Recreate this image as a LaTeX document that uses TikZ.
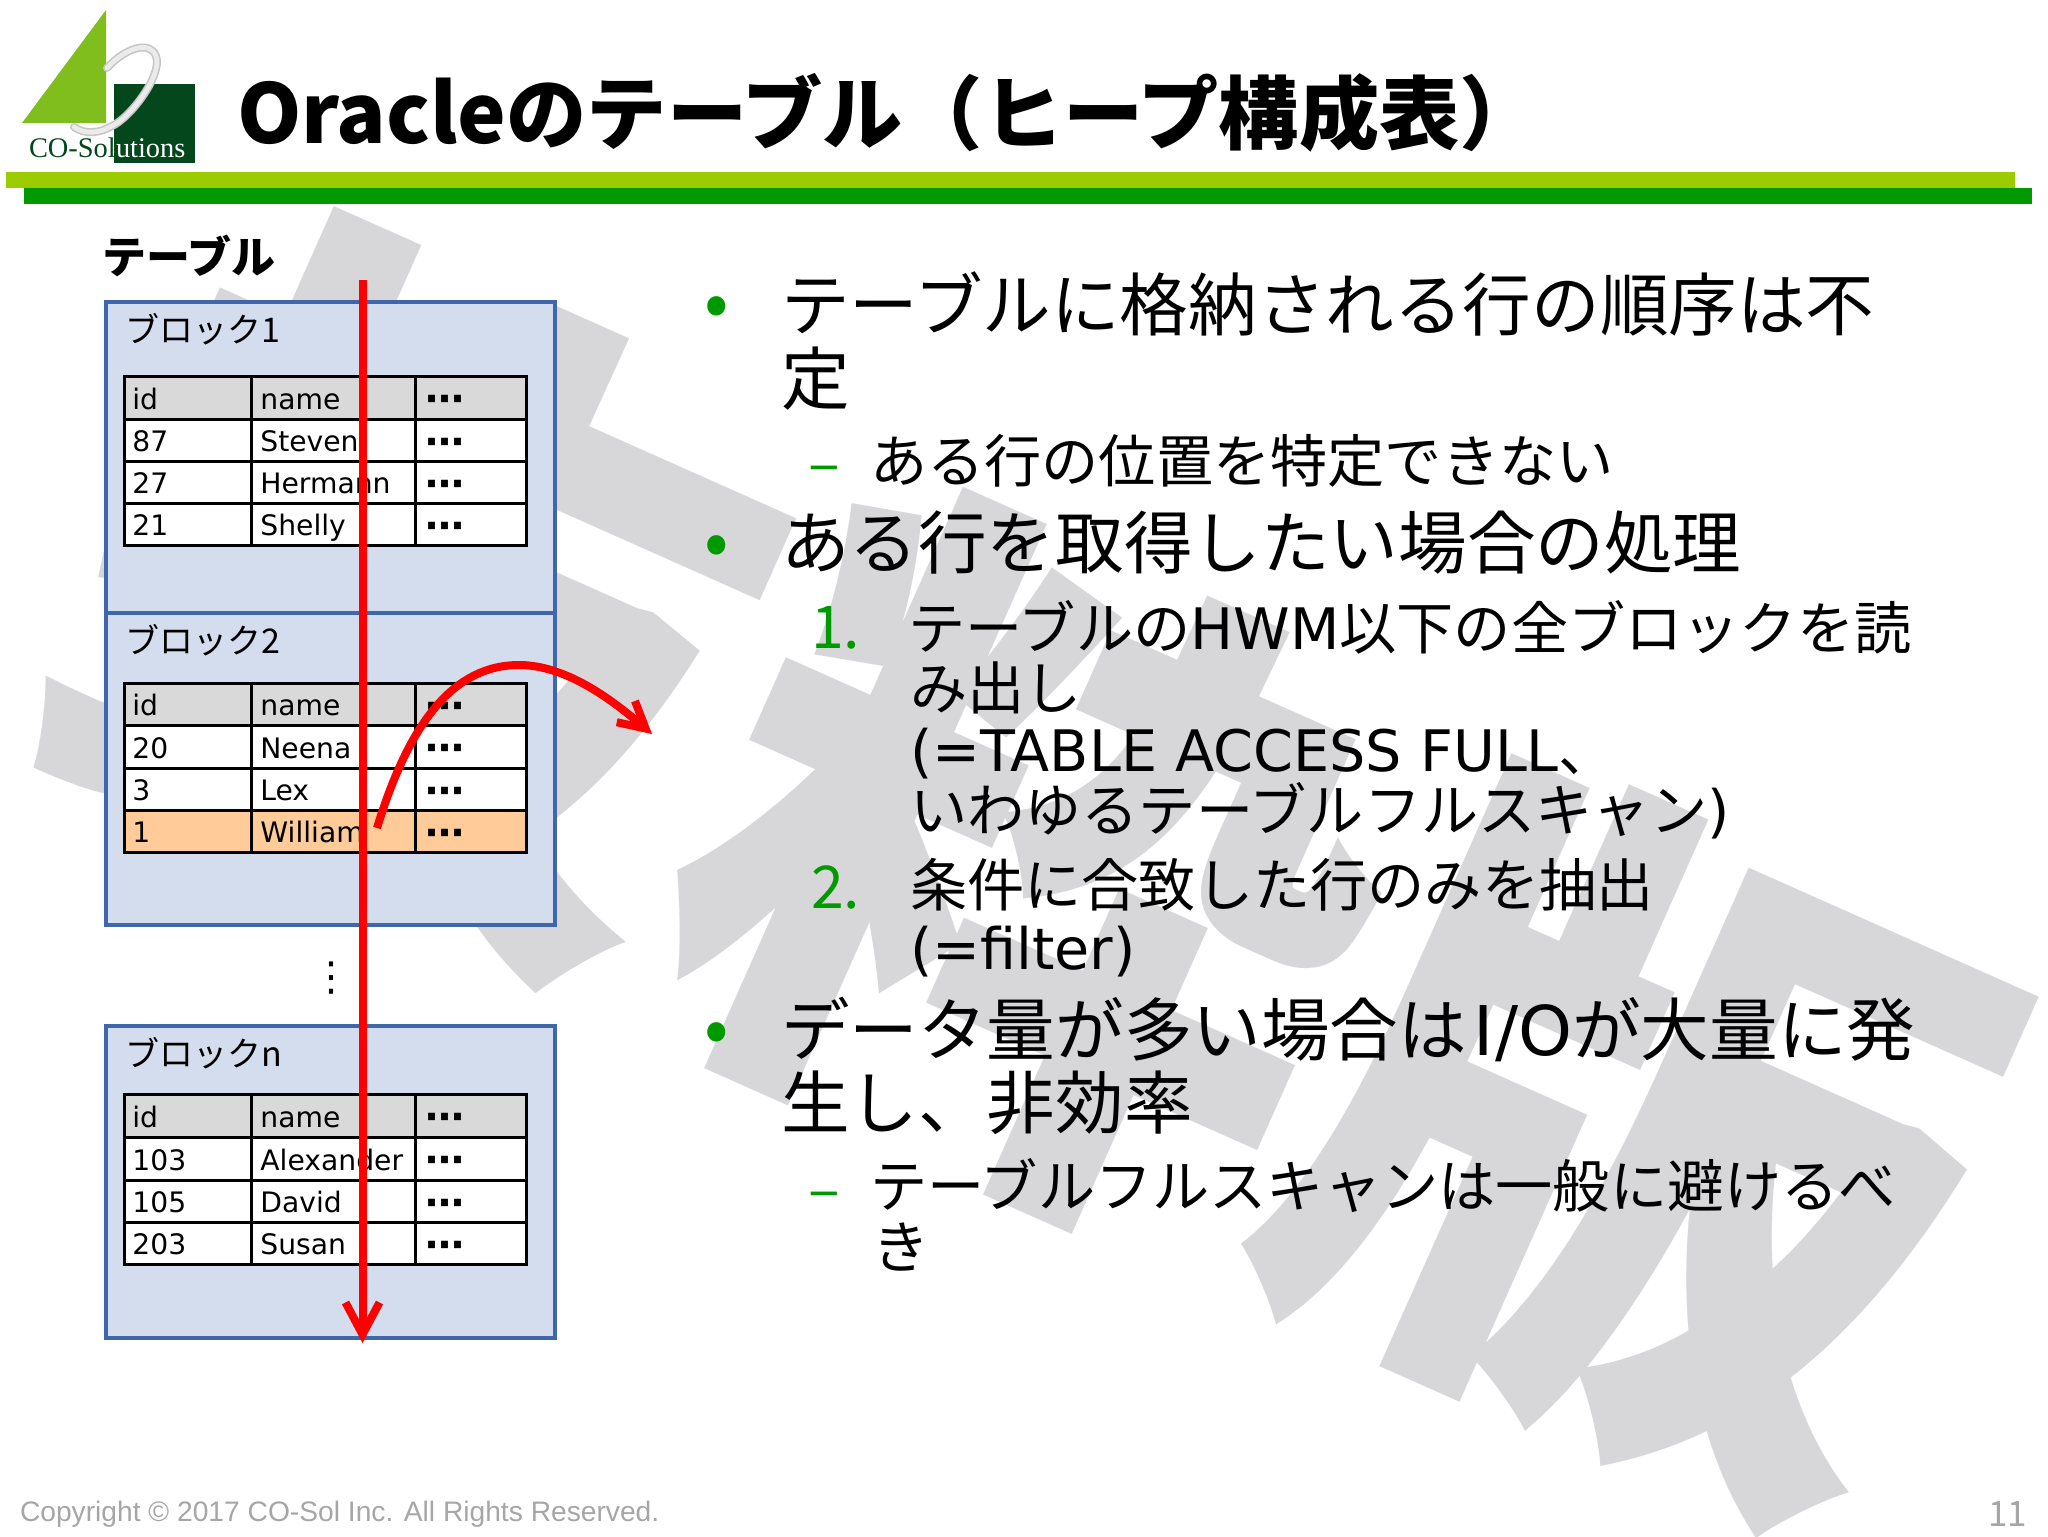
\documentclass[tikz,border=0pt]{standalone}
\usepackage{fontspec}
\setmainfont{Noto Sans CJK JP}
\newfontfamily\djfont{DejaVu Sans}
\newfontfamily\lsfont{Liberation Sans}
\newfontfamily\lrfont{Liberation Serif}
\usetikzlibrary{arrows.meta}
\definecolor{wmgray}{HTML}{D7D6D9}
\definecolor{blockblue}{HTML}{3F67AC}
\definecolor{blockfill}{HTML}{D3DDEE}
\definecolor{headgray}{HTML}{D9D9D9}
\definecolor{rowhi}{HTML}{FFCC99}
\definecolor{bulgreen}{HTML}{009900}
\definecolor{lime}{HTML}{9BCC00}
\definecolor{logolight}{HTML}{80BE1E}
\definecolor{logodark}{HTML}{04471C}
\definecolor{footgray}{HTML}{A6A6A6}
\newcommand{\fsz}[1]{\fontsize{#1}{#1}\selectfont}
\newcommand{\subl}[1]{{\djfont\fsz{28.6}#1}}
\tikzset{
  x=0.5pt,y=-0.5pt,
  txt/.style={anchor=west,inner sep=0pt,outer sep=0pt},
  body/.style={txt,font=\fsz{34.3}},
  sub/.style={txt,font=\fsz{28.6}},
  bulletmk/.style={anchor=center,inner sep=0pt,text=bulgreen,font=\fsz{36}},
  marker/.style={txt,text=bulgreen,font=\fsz{29.5}},
  blockbox/.style={draw=blockblue,fill=blockfill,line width=2pt},
  blocklabel/.style={txt,font=\fsz{17}},
  cell/.style={draw=black,line width=1.5pt},
  celltxt/.style={anchor=base west,inner sep=0pt,font=\djfont\fsz{14.1}},
  celldots/.style={anchor=center,inner sep=0pt,font=\djfont\bfseries\fsz{19.5}},
  redline/.style={draw=red,line width=4pt},
}
\newcommand{\tblrow}[7]{% name, ytop, ybot, fill, id, name, dots flag
  \path[cell,fill=#4] (124,#2) rectangle (251,#3);
  \path[cell,fill=#4] (251,#2) rectangle (415,#3);
  \path[cell,fill=#4] (415,#2) rectangle (526,#3);
  \path (132,#3) ++(0,-10) node[celltxt] (#1i) {#5};
  \path (260,#3) ++(0,-10) node[celltxt] (#1n) {#6};
  \path (445,#2) ++(0,28) node[celldots] (#1d) {#7};
}
\begin{document}
\begin{tikzpicture}
\useasboundingbox (0,0) rectangle (2048,1536);
\clip (0,0) rectangle (2048,1536);
% watermark
\node[rotate=-24,inner sep=0pt,text=wmgray,font=\bfseries\fsz{335}] (wm) at (1035,868) {抜粋版};
% logo
\fill[logolight] (22,123) -- (106,10) -- (106,123) -- cycle;
\fill[logodark] (114,84) rectangle (195,163);
\draw[line width=4pt,gray!45,line cap=round] (107,68) .. controls (125,48) and (150,40) .. (156,56) .. controls (163,75) and (130,118) .. (112,126) .. controls (100,133) and (85,135) .. (74,127);
\draw[line width=2.4pt,white!92!black,line cap=round] (107,68) .. controls (125,48) and (150,40) .. (156,56) .. controls (163,75) and (130,118) .. (112,126) .. controls (100,133) and (85,135) .. (74,127);
\node[txt,text=logodark,font=\lrfont\fsz{14.2}] (logoa) at (29,148) {CO-Sol};
\node[txt,text=white,font=\lrfont\fsz{14.2}] (logob) at (116,148) {utions};
% title bars
\fill[lime] (6,172) rectangle (2015,188);
\fill[bulgreen] (24,188) rectangle (2032,204);
\node[txt,font=\bfseries\fsz{40.1}] (title) at (237,113) {{\fsz{41}Oracle}のテーブル（ヒープ構成表）};
% left
\node[txt,font=\bfseries\fsz{22}] (tbllabel) at (102,256) {テーブル};
\path[blockbox] (106,302) rectangle (555,613);
\path[blockbox] (106,613) rectangle (555,925);
\path[blockbox] (106,1026) rectangle (555,1338);
\node[blocklabel] (b1) at (125,329) {ブロック1};
\node[blocklabel] (b2) at (125,640) {ブロック2};
\node[blocklabel] (bn) at (125,1053) {ブロックn};
\tblrow{a0}{376}{419}{headgray}{id}{name}{⋯}
\tblrow{a1}{419}{461}{white}{87}{Steven}{⋯}
\tblrow{a2}{461}{503}{white}{27}{Hermann}{⋯}
\tblrow{a3}{503}{545}{white}{21}{Shelly}{⋯}
\tblrow{b0}{683}{725}{headgray}{id}{name}{⋯}
\tblrow{b1}{725}{768}{white}{20}{Neena}{⋯}
\tblrow{b2}{768}{810}{white}{3}{Lex}{⋯}
\tblrow{b3}{810}{852}{rowhi}{1}{William}{⋯}
\tblrow{c0}{1094}{1137}{headgray}{id}{name}{⋯}
\tblrow{c1}{1137}{1180}{white}{103}{Alexander}{⋯}
\tblrow{c2}{1180}{1222}{white}{105}{David}{⋯}
\tblrow{c3}{1222}{1264}{white}{203}{Susan}{⋯}
\node[inner sep=0pt,font=\djfont\fsz{20}] (vdots) at (331,978) {⋮};
% arrows
\coordinate (scanA) at (362.5,280);
\coordinate (scanB) at (362.5,1343);
\draw[redline,-{Straight Barb[length=16pt,width=17pt]}] (scanA) -- (scanB);
\coordinate (retA) at (377,828);
\coordinate (retB) at (652,734);
\draw[draw=red,line width=4pt,-{Straight Barb[length=13pt,width=14pt]}] (retA) .. controls (410,720) and (455,665) .. (519,665) .. controls (565,665) and (610,698) .. (retB);
% body
\node[bulletmk] (bu1) at (717,312) {•};
\node[body] (l1) at (781,304) {テーブルに格納される行の順序は不};
\node[body] (l2) at (781,379) {定};
\node[marker] (d1) at (808,475) {–};
\node[sub] (l3) at (870,461) {ある行の位置を特定できない};
\node[bulletmk] (bu2) at (717,551) {•};
\node[body] (l4) at (781,543) {ある行を取得したい場合の処理};
\node[marker] (n1) at (811,628) {1.};
\node[sub] (l5) at (908,627) {テーブルの\subl{HWM}以下の全ブロックを読};
\node[sub] (l6) at (910,688) {み出し};
\node[sub] (l7) at (910,754) {\subl{(=TABLE ACCESS FULL}、};
\node[sub] (l8) at (910,811) {いわゆるテーブルフルスキャン\subl{)}};
\node[marker] (n2) at (811,887) {2.};
\node[sub] (l9) at (910,885) {条件に合致した行のみを抽出};
\node[sub] (l10) at (910,952) {\subl{(=filter)}};
\node[bulletmk] (bu3) at (717,1038) {•};
\node[body] (l11) at (781,1029) {データ量が多い場合は{\djfont\fsz{34.3}\hspace{3pt}I\hspace{1pt}/O}が大量に発};
\node[body] (l12) at (781,1103) {生し、非効率};
\node[marker] (d2) at (808,1201) {–};
\node[sub] (l13) at (870,1186) {テーブルフルスキャンは一般に避けるべ};
\node[sub] (l14) at (872,1247) {き};
% footer
\node[txt,text=footgray,font=\lsfont\fsz{14.1}] (copy) at (20,1514) {Copyright © 2017 CO-Sol Inc. All Rights Reserved.};
\node[txt,text=footgray,font=\fsz{17.5}] (pno) at (1988,1514) {11};
\end{tikzpicture}
\end{document}
